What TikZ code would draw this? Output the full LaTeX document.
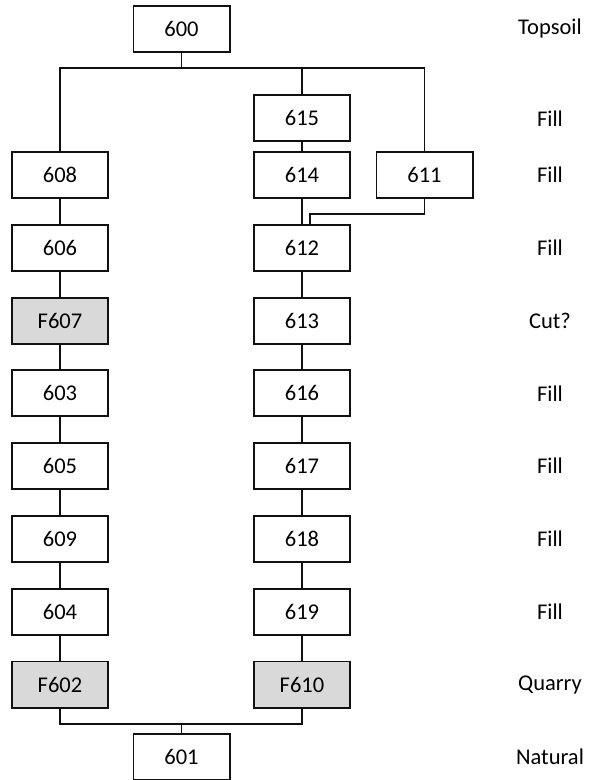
\documentclass[tikz,border=0pt]{standalone}
\usepackage{fontspec}
\setmainfont{Carlito}
\usetikzlibrary{positioning, calc}
\usepackage{xcolor}
\definecolor{ctxLine}{HTML}{111111}
\definecolor{ctxCut}{HTML}{D9D9D9}
\tikzset{
    ctx/.style={rectangle, draw=ctxLine, fill=white, line width=1.4pt, minimum width=2.4cm, minimum height=1.15cm, inner sep=0pt, font=\fontsize{16}{18}\selectfont},
    feature/.style={ctx, fill=ctxCut},
    phase/.style={font=\fontsize{16}{18}\selectfont, anchor=center},
    link/.style={draw=ctxLine, line width=1.2pt},
}
\begin{document}
\begin{tikzpicture}[x=0.025cm, y=-0.025cm]
    \useasboundingbox (0,0) rectangle (590,780);

    % top and bottom of the sequence
    \node[ctx] (n600) at (181.5,29) {600};
    \node[ctx] (n601) at (181.5,757) {601};

    % left column
    \node[ctx] (n608) at (60,175) {608};
    \node[ctx, below=0.62cm of n608] (n606) {606};
    \node[feature, below=0.62cm of n606] (nF607) {F607};
    \node[ctx, below=0.62cm of nF607] (n603) {603};
    \node[ctx, below=0.62cm of n603] (n605) {605};
    \node[ctx, below=0.62cm of n605] (n609) {609};
    \node[ctx, below=0.62cm of n609] (n604) {604};
    \node[feature, below=0.62cm of n604] (nF602) {F602};

    % middle column
    \node[ctx] (n614) at (302,175) {614};
    \node[ctx, above=0.22cm of n614] (n615) {615};
    \node[ctx, below=0.62cm of n614] (n612) {612};
    \node[ctx, below=0.62cm of n612] (n613) {613};
    \node[ctx, below=0.62cm of n613] (n616) {616};
    \node[ctx, below=0.62cm of n616] (n617) {617};
    \node[ctx, below=0.62cm of n617] (n618) {618};
    \node[ctx, below=0.62cm of n618] (n619) {619};
    \node[feature, below=0.62cm of n619] (nF610) {F610};

    % right column
    \node[ctx] (n611) at (424.5,175) {611};

    % phase labels
    \node[phase] (pTop) at (550,29) {Topsoil};
    \foreach \row/\txt in {n615/Fill, n614/Fill, n612/Fill, n613/Cut?, n616/Fill,
                           n617/Fill, n618/Fill, n619/Fill, nF610/Quarry, n601/Natural}
        \node[phase] (p\row) at (550,0 |- \row) {\txt};

    % connectors
    \coordinate (busTop) at (181.5,68);
    \coordinate (busBot) at (181.5,724);
    \coordinate (jog) at (310,214);
    \draw[link] (n600) -- (busTop);
    \draw[link] (n608) |- (busTop) -| (n611);
    \draw[link] (n615) -- (n615 |- busTop);
    \draw[link] (n615) -- (n614);
    \draw[link] (n614) -- (n612);
    \draw[link] (n611) |- (jog) -- (jog |- n612.north);
    \foreach \a/\b in {n608/n606, n606/nF607, nF607/n603, n603/n605, n605/n609, n609/n604, n604/nF602,
                       n612/n613, n613/n616, n616/n617, n617/n618, n618/n619, n619/nF610}
        \draw[link] (\a) -- (\b);
    \draw[link] (nF602) |- (busBot) -| (nF610);
    \draw[link] (busBot) -- (n601);
\end{tikzpicture}
\end{document}
